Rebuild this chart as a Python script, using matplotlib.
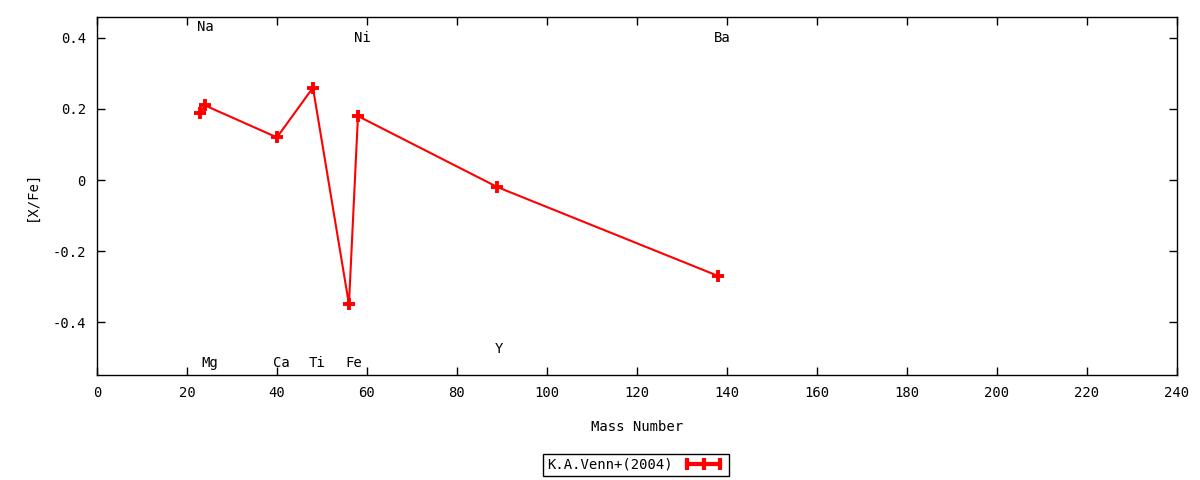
import matplotlib.pyplot as plt
from matplotlib.lines import Line2D
from matplotlib.legend_handler import HandlerLine2D

# Venn et al. (2004) abundance ratios vs mass number
elements = ['Na', 'Mg', 'Ca', 'Ti', 'Fe', 'Ni', 'Y', 'Ba']
mass = [23, 24, 40, 48, 56, 58, 89, 138]
xfe = [0.19, 0.21, 0.12, 0.26, -0.35, 0.18, -0.02, -0.27]

# where each element name is written (data coords)
label_x = [24, 25.1, 41, 49, 57, 59, 89.3, 139]
label_y = [0.43, -0.515, -0.515, -0.515, -0.515, 0.40, -0.476, 0.40]

plt.rcParams['font.family'] = 'DejaVu Sans Mono'
plt.rcParams['font.size'] = 10

fig = plt.figure(figsize=(12, 4.8), dpi=100)
ax = fig.add_axes([0.0808, 0.2188, 0.9, 0.7458])

ax.plot(mass, xfe, color='red', lw=1.5, marker='+', ms=8, mew=2.8)

for name, lx, ly in zip(elements, label_x, label_y):
    ax.text(lx, ly, name, ha='center', va='center')

ax.set_xlim(0, 240)
ax.set_ylim(-0.549, 0.459)
ax.set_xticks(range(0, 241, 20))
ax.set_yticks([-0.4, -0.2, 0, 0.2, 0.4])
ax.set_yticklabels(['-0.4', '-0.2', '0', '0.2', '0.4'])
ax.tick_params(direction='in', top=True, right=True, length=6, width=1, pad=8)
for s in ax.spines.values():
    s.set_linewidth(1)

ax.set_xlabel('Mass Number', labelpad=14)
ax.set_ylabel('[X/Fe]', labelpad=10)

# gnuplot-like key sample: thick line with bars at ends and middle
proxy = Line2D([], [], color='red', lw=3, marker='|', ms=8, mew=3)
leg = ax.legend([proxy], ['K.A.Venn+(2004)'], loc='center',
                bbox_to_anchor=(0.499, -0.251), markerfirst=False,
                handler_map={proxy: HandlerLine2D(numpoints=3)},
                handlelength=3.0, fancybox=False, framealpha=1,
                edgecolor='black', borderpad=0.3, handletextpad=0.7,
                borderaxespad=0)
leg.get_frame().set_linewidth(1)

plt.savefig('out.png')
